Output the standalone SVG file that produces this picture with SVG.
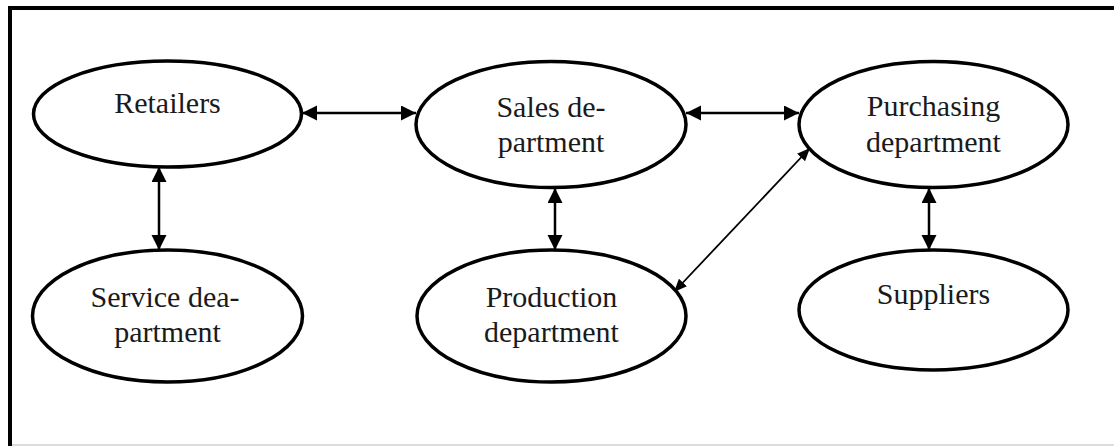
<svg xmlns="http://www.w3.org/2000/svg" width="1114" height="446" viewBox="0 0 1114 446">
<style>
.node ellipse{fill:#fff;stroke:#000;stroke-width:3.5}
.node text{font-family:"Liberation Serif","Times New Roman",serif;font-size:30px;fill:#1a1a1a;text-anchor:middle}
.thick{stroke:#000;stroke-width:2.5;fill:none}
.thin{stroke:#000;stroke-width:1.8;fill:none}
</style>
<defs>
<marker id="ah" markerUnits="userSpaceOnUse" markerWidth="16" markerHeight="16" refX="15" refY="7.5" orient="auto-start-reverse" viewBox="0 0 16 16">
<path d="M0,0 L15,7.5 L0,15 Z" fill="#000"/>
</marker>
<marker id="ahs" markerUnits="userSpaceOnUse" markerWidth="14" markerHeight="12" refX="13" refY="5.5" orient="auto-start-reverse" viewBox="0 0 14 12">
<path d="M0,0 L13,5.5 L0,11 Z" fill="#000"/>
</marker>
</defs>
<rect x="0" y="0" width="1114" height="446" fill="#fff"/>
<rect x="10" y="8" width="1120" height="460" fill="none" stroke="#000" stroke-width="4"/>
<line x1="12" y1="445" x2="1114" y2="445" stroke="#dcdcdc" stroke-width="2"/>
<g id="connectors">
<line class="thick" x1="302" y1="113" x2="416" y2="113" marker-start="url(#ah)" marker-end="url(#ah)"/>
<line class="thick" x1="686" y1="113" x2="799" y2="113" marker-start="url(#ah)" marker-end="url(#ah)"/>
<line class="thick" x1="159" y1="167" x2="159" y2="250" marker-start="url(#ah)" marker-end="url(#ah)"/>
<line class="thick" x1="555" y1="188" x2="555" y2="250" marker-start="url(#ah)" marker-end="url(#ah)"/>
<line class="thick" x1="929" y1="188" x2="929" y2="250" marker-start="url(#ah)" marker-end="url(#ah)"/>
<line class="thin" x1="810" y1="148" x2="674" y2="292" marker-start="url(#ahs)" marker-end="url(#ahs)"/>
</g>
<g id="retailers" class="node">
<ellipse cx="167.5" cy="114" rx="134" ry="53"/>
<text x="167.5" y="113">Retailers</text>
</g>
<g id="sales" class="node">
<ellipse cx="551" cy="124.5" rx="135" ry="63"/>
<text x="551" y="117">Sales de-</text>
<text x="551" y="152">partment</text>
</g>
<g id="purchasing" class="node">
<ellipse cx="933.5" cy="124.5" rx="134.5" ry="63"/>
<text x="933.5" y="116">Purchasing</text>
<text x="933.5" y="152">department</text>
</g>
<g id="service" class="node">
<ellipse cx="167.5" cy="316" rx="135" ry="66"/>
<text x="165" y="307">Service dea-</text>
<text x="167.5" y="342">partment</text>
</g>
<g id="production" class="node">
<ellipse cx="551.5" cy="316" rx="134.5" ry="66"/>
<text x="551.5" y="307">Production</text>
<text x="551.5" y="342">department</text>
</g>
<g id="suppliers" class="node">
<ellipse cx="933.5" cy="310" rx="134.5" ry="60"/>
<text x="933.5" y="304">Suppliers</text>
</g>
</svg>
